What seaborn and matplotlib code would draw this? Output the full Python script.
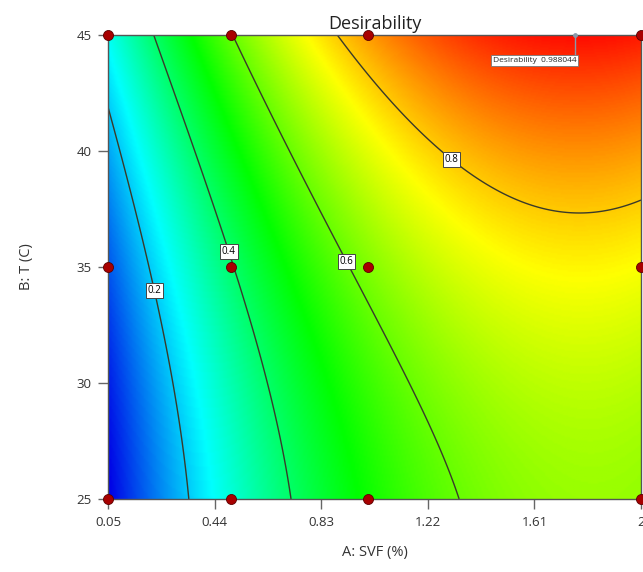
import numpy as np
import pandas as pd
import matplotlib
matplotlib.use("Agg")
import matplotlib.pyplot as plt
from matplotlib.colors import LinearSegmentedColormap
import seaborn as sns

# ---- data ----
# contour traces (A: SVF %, B: T C) for each level
c02_A = [0.05, 0.13, 0.221, 0.306, 0.349]
c02_B = [41.77, 38.2, 34.66, 29.9, 25.0]
c04_A = [0.2016, 0.349, 0.513, 0.635, 0.708]
c04_B = [45.0, 40.69, 34.87, 29.9, 25.0]
c06_A = [0.507, 0.682, 0.945, 1.146, 1.329]
c06_B = [45.0, 40.69, 34.66, 29.9, 25.0]
c08_A = [0.884, 1.146, 1.201, 1.311, 1.544, 1.726, 2.0]
c08_B = [45.0, 41.4, 40.69, 39.74, 38.1, 37.5, 38.25]
# extra anchor values
anc_A = [0.05, 0.05, 0.05, 2.0, 2.0, 2.0, 1.76]
anc_B = [25.0, 35.0, 45.0, 25.0, 35.0, 45.0, 45.0]
anc_D = [0.0, 0.10, 0.25, 0.64, 0.76, 0.975, 0.988]

# design points
design_A = [0.05, 0.5, 1.0, 2.0, 0.05, 0.5, 1.0, 2.0, 0.05, 0.5, 1.0, 2.0]
design_B = [45, 45, 45, 45, 35, 35, 35, 35, 25, 25, 25, 25]

levels = [0.2, 0.4, 0.6, 0.8]
xticks = [0.05, 0.44, 0.83, 1.22, 1.61, 2.0]
xticklabels = ["0.05", "0.44", "0.83", "1.22", "1.61", "2"]
yticks = [25, 30, 35, 40, 45]
opt_A, opt_B, opt_D = 1.76, 45.0, 0.988044

# ---- surface fit (cubic response model in coded units) ----
pts_A = np.array(c02_A + c04_A + c06_A + c08_A + anc_A)
pts_B = np.array(c02_B + c04_B + c06_B + c08_B + anc_B)
pts_D = np.array([0.2]*len(c02_A) + [0.4]*len(c04_A) + [0.6]*len(c06_A)
                 + [0.8]*len(c08_A) + anc_D)

def terms(a, b):
    x = (a - 1.025) / 0.975
    y = (b - 35.0) / 10.0
    return np.stack([np.ones_like(x), x, y, x*y, x**2, y**2,
                     x**3, x**2*y, x*y**2, y**3], axis=-1)

coef, *_ = np.linalg.lstsq(terms(pts_A, pts_B), pts_D, rcond=None)

ga = np.linspace(0.05, 2.0, 300)
gb = np.linspace(25, 45, 300)
GA, GB = np.meshgrid(ga, gb)
Z = np.clip(terms(GA, GB) @ coef, 0, 1)

cmap = LinearSegmentedColormap.from_list(
    "de", ["#0000e6", "#00ffff", "#00ff00", "#ffff00", "#ff0000"])

# ---- plot ----
sns.set_theme(style="white")
plt.rcParams["font.family"] = ["Open Sans", "DejaVu Sans"]

fig = plt.figure(figsize=(6.43, 5.72), dpi=100)
ax = fig.add_axes([108/643, 73/572, 533/643, 464/572])

ax.imshow(Z, extent=[0.05, 2.0, 25, 45], origin="lower", aspect="auto",
          cmap=cmap, vmin=0, vmax=1, interpolation="bilinear")
cs = ax.contour(GA, GB, Z, levels=levels, colors="#3a3a2a", linewidths=1.0)
lbls = ax.clabel(cs, fmt="%.1f", fontsize=7, inline=False,
                 manual=[(0.23, 34.0), (0.50, 35.7), (0.93, 35.3), (1.31, 39.7)])
for t in lbls:
    t.set_color("black")
    t.set_rotation(0)
    t.set_zorder(8)
    t.set_bbox(dict(facecolor="white", edgecolor="#444444", linewidth=0.7, pad=1.3))

# optimum flag
ax.plot([opt_A, opt_A], [opt_B, opt_B - 0.9], color="#8899aa", lw=1.0,
        clip_on=False, zorder=5)
ax.scatter([opt_A], [opt_B], s=6, color="#8899aa", zorder=6, clip_on=False)
ax.text(opt_A + 0.003, opt_B - 1.1, f"Desirability  {opt_D:g}", fontsize=6,
        ha="right", va="center", zorder=7,
        bbox=dict(facecolor="white", edgecolor="#777777", linewidth=0.6, pad=1.5))

df = pd.DataFrame({"A": design_A, "B": design_B})
sns.scatterplot(data=df, x="A", y="B", ax=ax, s=52, color="#a80000",
                edgecolor="#5a0000", linewidth=0.6, zorder=10, clip_on=False,
                legend=False)

ax.set_xlim(0.05, 2.0)
ax.set_ylim(25, 45)
ax.set_xticks(xticks)
ax.set_xticklabels(xticklabels)
ax.set_yticks(yticks)
ax.tick_params(axis="both", direction="out", length=7, width=1, color="#666666",
               labelsize=9.5, labelcolor="#333333", pad=5, bottom=True, left=True)
for s in ax.spines.values():
    s.set_color("#555555")
    s.set_linewidth(1.0)

ax.set_title("Desirability", fontsize=13, color="#222222", pad=4)
ax.set_xlabel("A: SVF (%)", fontsize=10.5, color="#333333", labelpad=12)
ax.set_ylabel("B: T (C)", fontsize=10.5, color="#333333", labelpad=30)

fig.savefig("out.png", dpi=100)
